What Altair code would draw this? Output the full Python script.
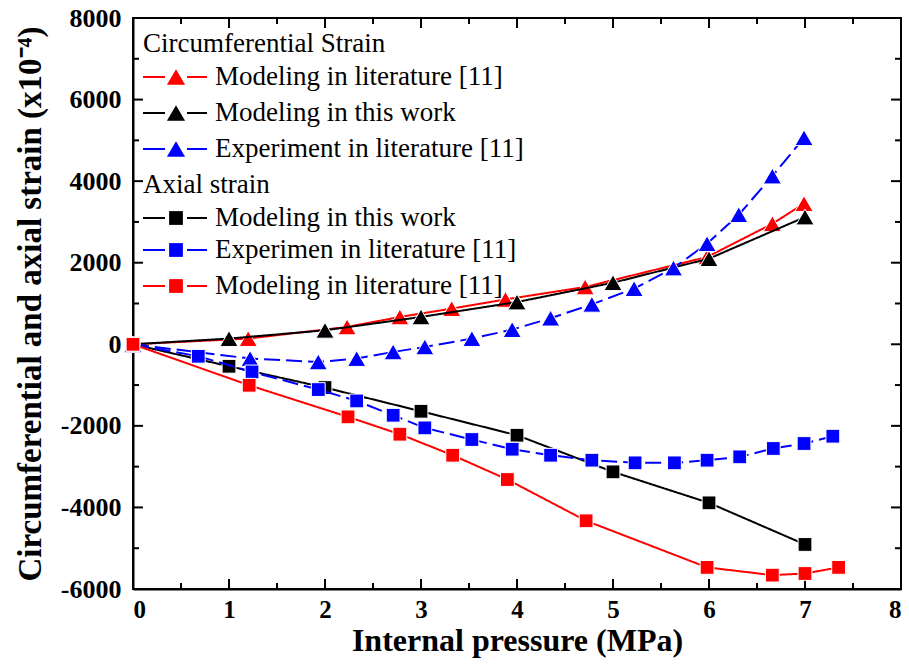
import altair as alt
import pandas as pd

# ---------------- data ----------------
circ_lit_x = [0, 1.2, 2.23, 2.78, 3.32, 3.88, 4.71, 5.98, 6.66, 6.99]
circ_lit_y = [0, 140, 425, 670, 875, 1100, 1405, 2140, 2955, 3450]

circ_work_x = [0, 1, 2, 3, 4, 5, 6, 7]
circ_work_y = [0, 140, 343, 670, 1036, 1510, 2100, 3120]

circ_exp_x = [0, 1.22, 1.93, 2.33, 2.71, 3.04, 3.53, 3.95, 4.35, 4.78, 5.22, 5.63, 5.98, 6.31, 6.66, 6.99]
circ_exp_y = [0, -350, -433, -350, -188, -65, 140, 360, 640, 980, 1365, 1870, 2467, 3177, 4124, 5064]

ax_work_x = [0, 1, 2, 3, 4, 5, 6, 7]
ax_work_y = [0, -539, -1061, -1642, -2230, -3128, -3888, -4908]

ax_exp_x = [0, 0.68, 1.24, 1.93, 2.33, 2.71, 3.04, 3.53, 3.95, 4.35, 4.78, 5.23, 5.64, 5.98, 6.32, 6.67, 6.99, 7.29]
ax_exp_y = [0, -294, -678, -1110, -1389, -1740, -2050, -2335, -2573, -2720, -2842, -2907, -2907, -2842, -2760, -2555, -2433, -2254]

ax_lit_x = [0, 1.21, 2.24, 2.78, 3.33, 3.9, 4.72, 5.98, 6.66, 7.0, 7.35]
ax_lit_y = [0, -1005, -1780, -2205, -2720, -3316, -4328, -5470, -5660, -5620, -5470]

x_major = [0, 1, 2, 3, 4, 5, 6, 7, 8]
x_minor = [0.5, 1.5, 2.5, 3.5, 4.5, 5.5, 6.5, 7.5]
y_major = [-6000, -4000, -2000, 0, 2000, 4000, 6000, 8000]
y_minor = [-5000, -3000, -1000, 1000, 3000, 5000, 7000]

legend_headers = ["Circumferential Strain", "Axial strain"]
legend_labels = [
    "Modeling in literature [11]",
    "Modeling in this work",
    "Experiment in literature [11]",
    "Modeling in this work",
    "Experimen in literature [11]",
    "Modeling in literature [11]",
]

W, H = 768, 571
FONT = "Liberation Serif"
RED, BLACK, BLUE = "#ff0000", "#000000", "#0000ff"
TRI, SQ = 330, 190

xscale = alt.Scale(domain=[0, 8], nice=False, zero=False)
yscale = alt.Scale(domain=[-6000, 8000], nice=False, zero=False)

# series: (x, y, color, shape, dash)
series = [
    (circ_lit_x, circ_lit_y, RED, "triangle-up", [1, 0]),
    (circ_work_x, circ_work_y, BLACK, "triangle-up", [1, 0]),
    (circ_exp_x, circ_exp_y, BLUE, "triangle-up", [16, 6]),
    (ax_work_x, ax_work_y, BLACK, "square", [1, 0]),
    (ax_exp_x, ax_exp_y, BLUE, "square", [16, 6]),
    (ax_lit_x, ax_lit_y, RED, "square", [1, 0]),
]

layers = []

base_df = pd.DataFrame({"x": [0], "y": [0]})
axes_layer = alt.Chart(base_df).mark_point(opacity=0).encode(
    x=alt.X("x:Q", scale=xscale,
            axis=alt.Axis(title="Internal pressure (MPa)", values=x_major, ticks=False,
                          labelExpr="'' + datum.value",
                          labelFont=FONT, labelFontSize=25, labelFontWeight="bold",
                          labelPadding=8, labelColor="black",
                          titleFont=FONT, titleFontSize=32, titleFontWeight="bold",
                          titlePadding=3, titleColor="black",
                          domainColor="black", domainWidth=2, grid=False)),
    y=alt.Y("y:Q", scale=yscale,
            axis=alt.Axis(title="Circumferential and axial strain (x10⁻⁴)", values=y_major,
                          ticks=False, labelExpr="'' + datum.value",
                          labelFont=FONT, labelFontSize=26, labelFontWeight="bold",
                          labelPadding=12, labelColor="black",
                          titleFont=FONT, titleFontSize=33, titleFontWeight="bold",
                          titlePadding=13, titleColor="black",
                          domainColor="black", domainWidth=2, grid=False)),
)
layers.append(axes_layer)

# ticks (inward)
xt = pd.DataFrame({"v": x_major + x_minor, "len": [10] * len(x_major) + [6] * len(x_minor)})
yt = pd.DataFrame({"v": y_major + y_minor, "len": [10] * len(y_major) + [6] * len(y_minor)})
for df, is_x in ((xt, True), (yt, False)):
    for length in (10, 6):
        sub = df[df["len"] == length]
        if is_x:
            layers.append(alt.Chart(sub).mark_rule(color="black", strokeWidth=2).encode(
                x=alt.X("v:Q", scale=xscale), y=alt.value(H), y2=alt.value(H - length)))
            layers.append(alt.Chart(sub).mark_rule(color="black", strokeWidth=2).encode(
                x=alt.X("v:Q", scale=xscale), y=alt.value(0), y2=alt.value(length)))
        else:
            layers.append(alt.Chart(sub).mark_rule(color="black", strokeWidth=2).encode(
                y=alt.Y("v:Q", scale=yscale), x=alt.value(0), x2=alt.value(length)))
            layers.append(alt.Chart(sub).mark_rule(color="black", strokeWidth=2).encode(
                y=alt.Y("v:Q", scale=yscale), x=alt.value(W), x2=alt.value(W - length)))

# data series
for xs, ys, col, shp, dash in series:
    df = pd.DataFrame({"x": xs, "y": ys})
    layers.append(alt.Chart(df).mark_line(color=col, strokeWidth=2, strokeDash=dash).encode(
        x=alt.X("x:Q", scale=xscale), y=alt.Y("y:Q", scale=yscale)))
    layers.append(alt.Chart(df).mark_point(shape=shp, filled=True, color=col, opacity=1,
                                           size=TRI if shp == "triangle-up" else SQ,
                                           stroke="white", strokeWidth=1).encode(
        x=alt.X("x:Q", scale=xscale), y=alt.Y("y:Q", scale=yscale)))

# legend (pixel positions inside plot area)
hdr_df = pd.DataFrame({"t": legend_headers, "px": [10, 10], "py": [26, 167]})
layers.append(alt.Chart(hdr_df).mark_text(align="left", baseline="middle", font=FONT,
                                          fontSize=27, color="black").encode(
    x=alt.X("px:Q", scale=None), y=alt.Y("py:Q", scale=None), text="t:N"))

rows_py = [59, 95, 131, 200, 232, 268]
for (xs, ys, col, shp, dash), lab, py in zip(series, legend_labels, rows_py):
    tdf = pd.DataFrame({"t": [lab], "px": [82], "py": [py]})
    layers.append(alt.Chart(tdf).mark_text(align="left", baseline="middle", font=FONT,
                                           fontSize=27, color="black").encode(
        x=alt.X("px:Q", scale=None), y=alt.Y("py:Q", scale=None), text="t:N"))
    sdf = pd.DataFrame({"a": [10, 54], "b": [32, 74], "py": [py, py]})
    layers.append(alt.Chart(sdf).mark_rule(color=col, strokeWidth=2).encode(
        x=alt.X("a:Q", scale=None), x2="b:Q", y=alt.Y("py:Q", scale=None)))
    mdf = pd.DataFrame({"px": [43], "py": [py]})
    layers.append(alt.Chart(mdf).mark_point(shape=shp, filled=True, color=col, opacity=1,
                                            size=TRI if shp == "triangle-up" else SQ).encode(
        x=alt.X("px:Q", scale=None), y=alt.Y("py:Q", scale=None)))

chart = alt.layer(*layers).properties(
    width=W, height=H,
    autosize=alt.AutoSizeParams(type="none"),
    padding={"left": 133, "top": 18, "right": 8, "bottom": 77},
    background="white",
).configure_view(stroke="black", strokeWidth=2)

chart.save("out.html", embed_options={"renderer": "svg", "actions": False})
